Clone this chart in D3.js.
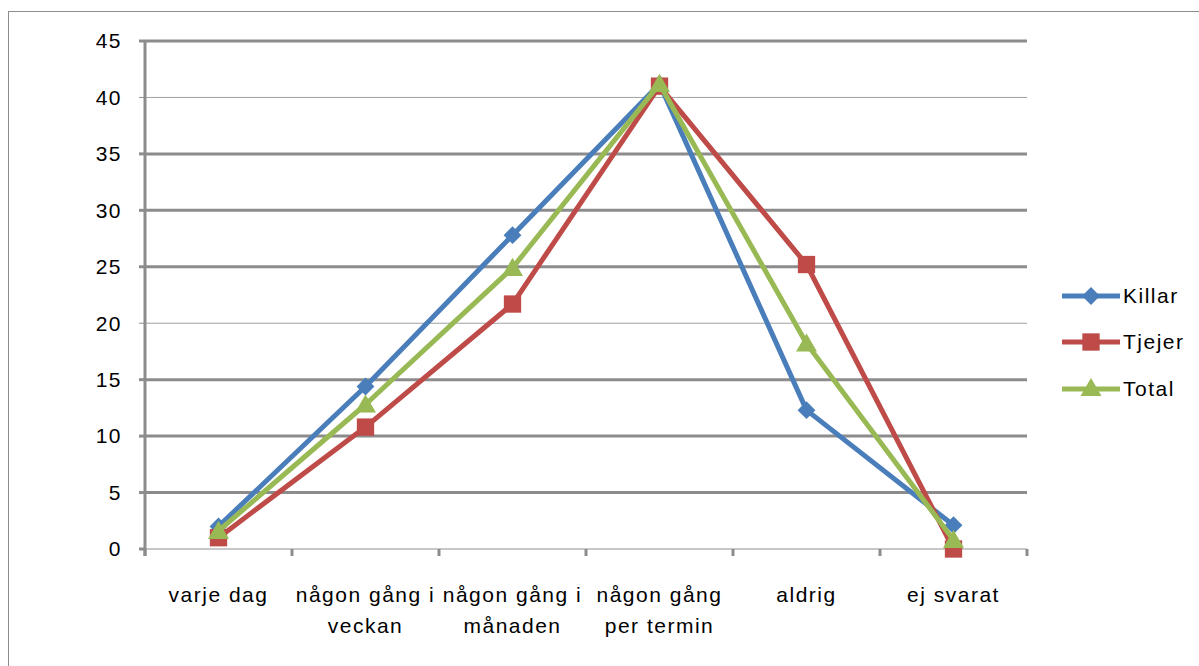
<!DOCTYPE html>
<html>
<head>
<meta charset="utf-8">
<script src="https://cdn.jsdelivr.net/npm/d3@7"></script>
<style>
  html, body { margin: 0; padding: 0; background: #fff; }
  svg { display: block; }
  text { font-family: "Liberation Sans", "DejaVu Sans", sans-serif; fill: #000; letter-spacing: 1.5px; }
</style>
</head>
<body>
<svg id="chart" width="1199" height="666"></svg>
<script>
const categories = [
  ["varje dag"],
  ["någon gång i", "veckan"],
  ["någon gång i", "månaden"],
  ["någon gång", "per termin"],
  ["aldrig"],
  ["ej svarat"]
];
const killar = [2.0, 14.4, 27.8, 41.2, 12.3, 2.1];
const tjejer = [1.0, 10.8, 21.7, 41.0, 25.2, 0.0];
const total  = [1.6, 12.8, 24.9, 41.2, 18.2, 0.8];
const yTicks = [0, 5, 10, 15, 20, 25, 30, 35, 40, 45];

const series = [
  { name: "Killar", values: killar, color: "#4a7ebb", marker: "diamond" },
  { name: "Tjejer", values: tjejer, color: "#be4b48", marker: "square" },
  { name: "Total",  values: total,  color: "#98b954", marker: "triangle" }
];

(function () {
const svg = d3.select("#chart");
const pL = 145, pR = 1027, pT = 41, pB = 549;
const fs = 21;

// outer border
svg.append("rect").attr("x", 8.5).attr("y", 11.5).attr("width", 1300).attr("height", 800)
  .attr("fill", "none").attr("stroke", "#8c8c8c").attr("stroke-width", 1);

const x = d3.scaleBand().domain(d3.range(categories.length)).range([pL, pR]).padding(0);
const y = d3.scaleLinear().domain([0, 45]).range([pB, pT]);

// gridlines
const thin = new Set([20, 40]);
svg.append("g").selectAll("line").data(yTicks.filter(t => t > 0)).join("line")
  .attr("x1", pL).attr("x2", pR)
  .attr("y1", d => y(d)).attr("y2", d => y(d))
  .attr("stroke", d => thin.has(d) ? "#a0a0a0" : "#8c8c8c")
  .attr("stroke-width", d => thin.has(d) ? 1 : 3);

// x axis line
svg.append("line").attr("x1", pL).attr("x2", pR).attr("y1", pB).attr("y2", pB)
  .attr("stroke", "#b4b4b4").attr("stroke-width", 1.5);
// x ticks at boundaries
const bounds = d3.range(categories.length + 1).map(i => i < categories.length ? x(i) : x(categories.length - 1) + x.bandwidth());
svg.append("g").selectAll("line").data(bounds).join("line")
  .attr("x1", d => d).attr("x2", d => d).attr("y1", pB).attr("y2", pB + 7)
  .attr("stroke", "#8c8c8c").attr("stroke-width", 3);

// y axis line
svg.append("line").attr("x1", pL).attr("x2", pL).attr("y1", pT - 1).attr("y2", pB + 7)
  .attr("stroke", "#8c8c8c").attr("stroke-width", 3);
// y ticks
svg.append("g").selectAll("line").data(yTicks).join("line")
  .attr("x1", pL - 6).attr("x2", pL).attr("y1", d => y(d)).attr("y2", d => y(d))
  .attr("stroke", "#8c8c8c").attr("stroke-width", d => thin.has(d) ? 1 : 3);
// y labels
svg.append("g").selectAll("text").data(yTicks).join("text")
  .attr("x", 122).attr("y", d => y(d)).attr("dy", "0.35em")
  .attr("text-anchor", "end").attr("font-size", fs)
  .text(d => d);

// x labels
const xl = svg.append("g").selectAll("text").data(categories).join("text")
  .attr("text-anchor", "middle").attr("font-size", fs)
  .attr("x", (d, i) => x(i) + x.bandwidth() / 2)
  .attr("y", 602);
xl.each(function(lines, i) {
  d3.select(this).selectAll("tspan").data(lines).join("tspan")
    .attr("x", x(i) + x.bandwidth() / 2)
    .attr("dy", (d, j) => j === 0 ? 0 : 31)
    .text(d => d);
});

const cx = i => x(i) + x.bandwidth() / 2;
const symbolFor = m => m === "diamond" ? d3.symbol().type(d3.symbolSquare).size(160)
  : m === "square" ? d3.symbol().type(d3.symbolSquare).size(300)
  : d3.symbol().type(d3.symbolTriangle).size(190);
const rot = m => m === "diamond" ? 45 : 0;

const line = d3.line().x((d, i) => cx(i)).y(d => y(d));
series.forEach(s => {
  const g = svg.append("g");
  g.append("path").datum(s.values).attr("d", line)
    .attr("fill", "none").attr("stroke", s.color).attr("stroke-width", 5).attr("stroke-linejoin", "round");
  g.selectAll("path.m").data(s.values).join("path").attr("class", "m")
    .attr("d", symbolFor(s.marker))
    .attr("transform", (d, i) => `translate(${cx(i)},${y(d) + (s.marker === "triangle" ? 2 : 0)}) rotate(${rot(s.marker)})`)
    .attr("fill", s.color);
});

// legend
const legY = [296, 342, 389];
series.forEach((s, i) => {
  const g = svg.append("g").attr("transform", `translate(0,${legY[i]})`);
  g.append("line").attr("x1", 1062).attr("x2", 1120).attr("y1", 0).attr("y2", 0)
    .attr("stroke", s.color).attr("stroke-width", 5);
  g.append("path").attr("d", symbolFor(s.marker))
    .attr("transform", `translate(1091,${s.marker === "triangle" ? 1 : 0}) rotate(${rot(s.marker)})`)
    .attr("fill", s.color);
  g.append("text").attr("x", 1123).attr("y", 0).attr("dy", "0.35em")
    .attr("font-size", fs).text(s.name);
});
})();
</script>
</body>
</html>
